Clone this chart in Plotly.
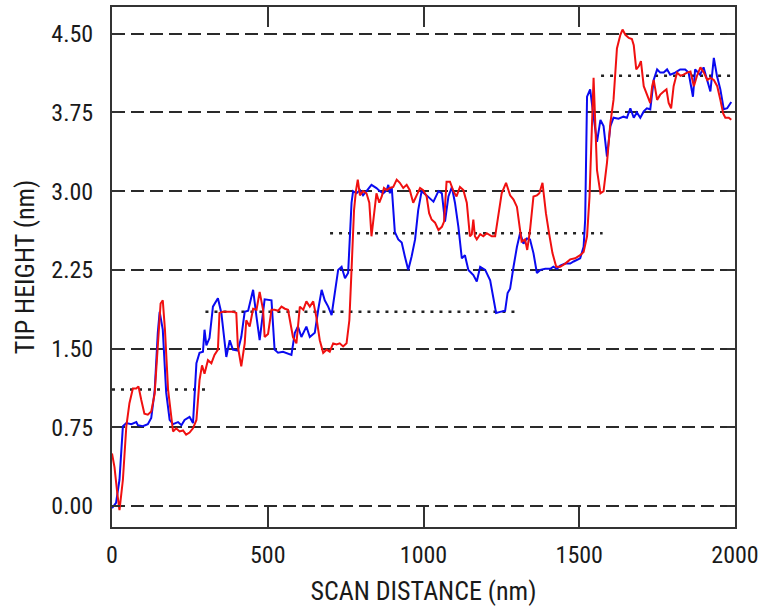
import plotly.graph_objects as go

# ---- data ----
blue_x = [0, 13, 24, 35, 46, 62, 78, 83, 99, 115, 126, 137, 147, 153, 163, 174, 185, 196, 212, 223,
          233, 249, 260, 271, 281, 292, 297, 303, 313, 324, 340, 351, 367, 378, 388, 404, 415, 426, 437, 453,
          464, 474, 490, 512, 522, 533, 549, 576, 587, 597, 608, 624, 635, 651, 662, 673, 683, 694, 705, 715,
          726, 737, 748, 758, 769, 774, 785, 796, 806, 817, 833, 849, 860, 871, 882, 887, 892, 898, 903, 908,
          919, 930, 940, 951, 962, 973, 983, 994, 1010, 1032, 1048, 1059, 1069, 1080, 1091, 1101, 1112, 1123, 1133, 1144,
          1160, 1171, 1182, 1198, 1214, 1224, 1233, 1246, 1262, 1270, 1278, 1289, 1300, 1310, 1321, 1332, 1342, 1353, 1364, 1375,
          1391, 1407, 1417, 1428, 1439, 1455, 1471, 1482, 1493, 1503, 1514, 1519, 1525, 1535, 1546, 1557, 1568, 1578, 1589, 1600,
          1610, 1626, 1642, 1653, 1664, 1675, 1685, 1696, 1707, 1717, 1728, 1739, 1750, 1760, 1771, 1782, 1792, 1808, 1824, 1840,
          1851, 1865, 1872, 1888, 1899, 1910, 1921, 1932, 1942, 1953, 1964, 1975, 1988]
blue_y = [-0.02, 0.03, 0.25, 0.76, 0.79, 0.78, 0.80, 0.77, 0.76, 0.78, 0.84, 1.10, 1.65, 1.85, 1.68, 1.08, 0.82, 0.78, 0.80, 0.77,
          0.82, 0.85, 0.79, 1.36, 1.46, 1.47, 1.68, 1.53, 1.60, 1.90, 1.98, 1.84, 1.42, 1.58, 1.49, 1.48, 1.61, 1.85, 1.86, 2.06,
          1.80, 1.58, 1.97, 1.96, 1.49, 1.46, 1.47, 1.44, 1.65, 1.71, 1.61, 1.71, 1.61, 1.65, 1.87, 2.06, 1.96, 1.90, 1.82, 2.03,
          2.25, 2.28, 2.17, 2.22, 2.89, 3.00, 2.98, 3.01, 2.96, 3.00, 3.06, 3.03, 3.00, 2.98, 3.01, 3.06, 2.98, 3.04, 2.82, 2.61,
          2.54, 2.51, 2.38, 2.25, 2.38, 2.54, 2.82, 3.00, 2.96, 2.90, 3.00, 2.98, 2.71, 2.95, 3.04, 2.89, 2.66, 2.36, 2.39, 2.25,
          2.20, 2.14, 2.28, 2.25, 2.15, 2.00, 1.84, 1.85, 1.86, 2.03, 2.07, 2.28, 2.47, 2.60, 2.50, 2.55, 2.54, 2.41, 2.22, 2.25,
          2.26, 2.26, 2.28, 2.26, 2.29, 2.31, 2.31, 2.33, 2.35, 2.36, 2.47, 2.73, 3.90, 3.97, 3.71, 3.47, 3.68, 3.62, 3.33, 3.62,
          3.70, 3.69, 3.71, 3.70, 3.79, 3.70, 3.75, 3.70, 3.76, 3.79, 3.78, 4.06, 4.16, 4.13, 4.13, 4.16, 4.11, 4.13, 4.16, 4.16,
          4.13, 3.90, 4.16, 4.11, 4.18, 4.06, 3.95, 4.27, 4.10, 3.97, 3.78, 3.79, 3.85]

red_x = [0, 8, 17, 24, 35, 46, 56, 67, 78, 85, 94, 104, 115, 126, 137, 147, 156, 163, 170, 180,
         190, 196, 206, 217, 228, 238, 249, 260, 271, 281, 289, 297, 308, 319, 329, 340, 345, 356, 372, 388,
         399, 404, 415, 426, 431, 442, 453, 464, 474, 485, 490, 501, 512, 522, 533, 544, 555, 565, 581, 592,
         603, 614, 624, 635, 646, 656, 667, 678, 689, 699, 710, 721, 731, 742, 753, 762, 769, 777, 783, 789,
         796, 806, 817, 826, 833, 840, 849, 858, 866, 873, 882, 892, 903, 914, 924, 935, 946, 956, 967, 978,
         989, 999, 1010, 1018, 1026, 1037, 1048, 1059, 1066, 1074, 1085, 1096, 1106, 1117, 1128, 1139, 1149, 1155, 1160, 1165,
         1171, 1182, 1192, 1203, 1219, 1230, 1240, 1251, 1265, 1278, 1289, 1300, 1310, 1315, 1326, 1333, 1342, 1353, 1364, 1372,
         1382, 1393, 1403, 1414, 1426, 1439, 1455, 1471, 1487, 1503, 1514, 1525, 1533, 1546, 1557, 1568, 1578, 1589, 1600, 1610,
         1621, 1632, 1639, 1648, 1659, 1669, 1675, 1683, 1691, 1698, 1707, 1715, 1723, 1728, 1734, 1739, 1750, 1760, 1771, 1780,
         1787, 1795, 1803, 1814, 1825, 1835, 1846, 1857, 1868, 1878, 1889, 1900, 1911, 1921, 1932, 1943, 1953, 1962, 1969, 1980, 1988]
red_y = [0.50, 0.37, 0.12, -0.04, 0.25, 0.76, 0.98, 1.12, 1.12, 1.14, 1.01, 0.88, 0.87, 0.90, 1.07, 1.52, 1.93, 1.96, 1.68, 1.11,
         0.88, 0.71, 0.74, 0.71, 0.72, 0.68, 0.70, 0.74, 0.82, 1.20, 1.34, 1.26, 1.39, 1.36, 1.44, 1.49, 1.84, 1.85, 1.85, 1.85,
         1.84, 1.52, 1.33, 1.55, 1.77, 1.71, 1.88, 1.87, 2.04, 1.87, 1.61, 1.64, 1.87, 1.87, 1.86, 1.90, 1.88, 1.87, 1.61, 1.55,
         1.90, 1.87, 1.95, 1.90, 1.95, 1.80, 1.58, 1.46, 1.49, 1.47, 1.55, 1.54, 1.55, 1.52, 1.55, 1.77, 2.25, 2.82, 3.00, 3.11,
         2.96, 3.00, 2.98, 2.89, 2.57, 2.76, 2.98, 2.89, 2.95, 3.03, 3.01, 3.03, 3.04, 3.11, 3.08, 3.03, 3.06, 3.01, 2.89, 2.96,
         3.03, 3.01, 2.95, 2.79, 2.73, 2.70, 2.63, 2.66, 2.71, 3.09, 3.09, 3.00, 2.95, 3.04, 3.01, 2.89, 2.57, 2.59, 2.73, 2.57,
         2.54, 2.59, 2.57, 2.60, 2.57, 2.57, 2.79, 2.98, 3.08, 2.96, 2.92, 2.85, 2.63, 2.52, 2.54, 2.44, 2.63, 2.95, 2.96, 2.98,
         3.08, 2.79, 2.60, 2.41, 2.28, 2.28, 2.31, 2.35, 2.36, 2.39, 2.42, 2.57, 2.95, 4.08, 3.20, 2.98, 3.00, 3.27, 3.65, 3.87,
         4.36, 4.49, 4.54, 4.49, 4.46, 4.45, 4.39, 4.16, 4.19, 4.24, 4.00, 3.94, 3.87, 3.84, 4.00, 4.06, 3.87, 3.92, 3.95, 3.97,
         3.84, 3.79, 4.00, 4.13, 4.10, 4.11, 4.13, 4.14, 4.00, 4.10, 4.18, 4.13, 4.06, 4.08, 4.06, 4.00, 3.87, 3.74, 3.70, 3.70, 3.68]

# dotted reference levels
ref_levels = [1.11, 1.85, 2.60, 4.10]
ref_start = [0, 300, 700, 1570]
ref_end = [310, 1310, 1575, 1990]

x_ticks = [0, 500, 1000, 1500, 2000]
y_ticks = [0.00, 0.75, 1.50, 2.25, 3.00, 3.75, 4.50]

fig = go.Figure()

for lvl, xs, xe in zip(ref_levels, ref_start, ref_end):
    fig.add_trace(go.Scatter(x=[xs, xe], y=[lvl, lvl], mode="lines",
                             line=dict(color="#222222", width=2.5, dash="3px,6px"),
                             showlegend=False, hoverinfo="skip"))

fig.add_trace(go.Scatter(x=blue_x, y=blue_y, mode="lines",
                         line=dict(color="#0a0af0", width=2), showlegend=False))
fig.add_trace(go.Scatter(x=red_x, y=red_y, mode="lines",
                         line=dict(color="#f01010", width=2), showlegend=False))

font_family = "Liberation Sans Narrow, Roboto Condensed, Liberation Sans, Arial, sans-serif"

fig.update_layout(
    width=762, height=607,
    margin=dict(l=112, r=27, t=7, b=80),
    paper_bgcolor="white", plot_bgcolor="white",
    font=dict(family=font_family, size=24, color="#1a1a1a"),
    xaxis=dict(
        range=[0, 2000], tickvals=x_ticks, ticktext=[str(v) for v in x_ticks],
        ticks="inside", ticklen=20, tickwidth=1.5, tickcolor="#333333",
        showline=True, linewidth=2, linecolor="#333333", mirror="ticks",
        showgrid=False, zeroline=False, automargin=False,
        ticklabelstandoff=5,
        title=dict(text="SCAN DISTANCE (nm)", standoff=14,
                   font=dict(family=font_family, size=26, color="#1a1a1a")),
    ),
    yaxis=dict(
        range=[-0.2, 4.755], tickvals=y_ticks, ticktext=[f"{v:.2f}" for v in y_ticks],
        ticks="inside", ticklen=8, tickwidth=1.5, tickcolor="#333333",
        showline=True, linewidth=2, linecolor="#333333", mirror="ticks",
        showgrid=True, gridcolor="#2a2a2a", gridwidth=1.8, griddash="13px,6px",
        zeroline=False, automargin=False,
        ticklabelstandoff=12,
        title=dict(text="TIP HEIGHT (nm)", standoff=9,
                   font=dict(family=font_family, size=26, color="#1a1a1a")),
    ),
)

fig.write_html("out.html", config={"displayModeBar": False},
               post_script="document.body.style.margin='0';")
